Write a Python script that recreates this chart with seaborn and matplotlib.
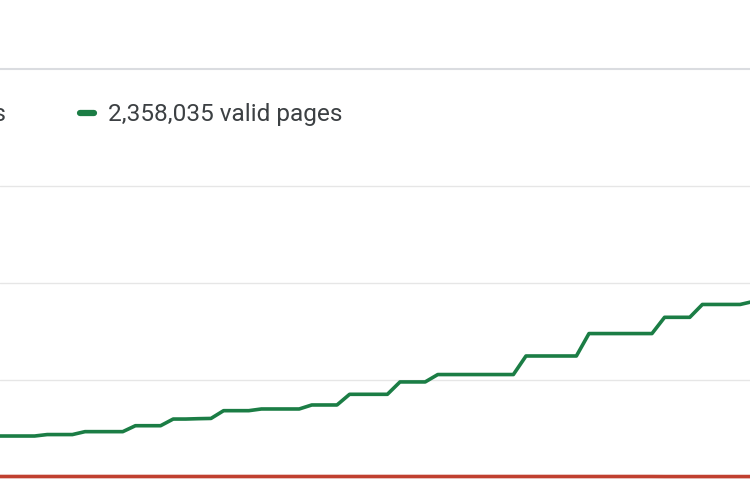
import pandas as pd
import matplotlib.pyplot as plt
from matplotlib.lines import Line2D
import seaborn as sns

# daily page counts (index coverage report)
valid_pages = [338000, 338000, 338000, 338000, 350000, 350000, 350000,
               374000, 374000, 374000, 374000, 423000, 423000, 423000,
               478000, 478000, 481000, 483000, 547000, 547000, 547000,
               561000, 561000, 561000, 561000, 594000, 594000, 594000,
               682000, 682000, 682000, 682000, 784000, 784000, 784000,
               845000, 845000, 845000, 845000, 845000, 845000, 845000,
               998000, 998000, 998000, 998000, 998000, 1183000, 1183000,
               1183000, 1183000, 1183000, 1183000, 1317000, 1317000, 1317000,
               1423000, 1423000, 1423000, 1423000, 1447000]
error_pages = [4100] * 53 + [3600] * 8
y_ticks = [0, 800000, 1600000, 2400000]

valid_label = '2,358,035 valid pages'
error_label = '4,108 errors'

dates = pd.date_range('2019-05-01', periods=len(valid_pages), freq='D')
df = pd.DataFrame({'date': dates, 'valid': valid_pages, 'errors': error_pages})

sns.set_theme(style='white')
plt.rcParams['font.family'] = ['Roboto', 'DejaVu Sans']

fig = plt.figure(figsize=(7.5, 5), dpi=100)
fig.patch.set_facecolor('white')

# the plot area runs past both edges of the picture
ax = fig.add_axes([0, 0, 1, 0.68])
sns.lineplot(data=df, x='date', y='errors', color='#c0402f', linewidth=2.6, ax=ax, zorder=3)
sns.lineplot(data=df, x='date', y='valid', color='#1b7d45', linewidth=2.6, ax=ax, zorder=4)

ax.set_xlim(dates[0] + pd.Timedelta(hours=0.254 * 24), dates[0] + pd.Timedelta(hours=59.78 * 24))
ax.set_ylim(-189700, 2614400)
ax.set_yticks(y_ticks)
ax.set_xticks([])
ax.grid(axis='y', color='#e6e6e6', linewidth=1)
ax.tick_params(left=False, labelleft=False, bottom=False, labelbottom=False)
ax.set_xlabel('')
ax.set_ylabel('')
for s in ax.spines.values():
    s.set_visible(False)

# separator line above the legend
fig.add_artist(Line2D([0, 1], [1 - 69 / 500, 1 - 69 / 500], color='#dadce0', linewidth=1.5))

# legend row (the first entry is cut by the left edge, as in the screenshot)
fig.text(6 / 750, 1 - 114.5 / 500, error_label, ha='right', va='center', fontsize=17.6, color='#3c4043')
fig.add_artist(Line2D([80 / 750, 94 / 750], [1 - 113 / 500, 1 - 113 / 500], color='#1b7d45',
                      linewidth=4.5, solid_capstyle='round'))
fig.text(108 / 750, 1 - 114.5 / 500, valid_label, ha='left', va='center', fontsize=17.6, color='#3c4043')

fig.savefig('out.png', dpi=100)
